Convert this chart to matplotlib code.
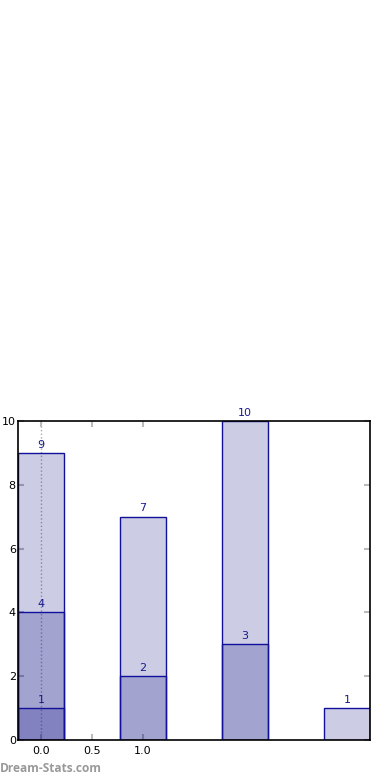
import matplotlib
matplotlib.use("Agg")
import matplotlib.pyplot as plt

positions = [0, 1, 2, 3]
layer_values = [
    [9, 7, 10, 1],
    [4, 2, 3, None],
    [1, None, None, None],
]
xtick_vals = [0.0, 0.5, 1.0]
xtick_labels = ["0.0", "0.5", "1.0"]
ytick_vals = [0, 2, 4, 6, 8, 10]

fig = plt.figure(figsize=(3.9, 7.8), dpi=100)
ax = fig.add_axes([0.046, 0.0513, 0.903, 0.409])

ax.axvline(0, color="#aaaaaa", linestyle=":", linewidth=1, zorder=0)

for layer in layer_values:
    for x, v in zip(positions, layer):
        if v is None:
            continue
        ax.bar(x, v, width=0.45, color=(0, 0, 0.5, 0.2), edgecolor="#10109a",
               linewidth=1, zorder=2)
        ax.text(x, v + 0.1, str(v), ha="center", va="bottom", fontsize=8,
                color="#1a1a8a", zorder=3)

ax.set_xlim(-0.225, 3.225)
ax.set_ylim(0, 10)
ax.set_xticks(xtick_vals)
ax.set_xticklabels(xtick_labels)
ax.set_yticks(ytick_vals)
ax.tick_params(direction="in", length=4, color="#bbbbbb", labelsize=8,
               top=True, right=True, width=1.5, pad=4)
ax.tick_params(axis="y", pad=1.5)
for s in ax.spines.values():
    s.set_linewidth(1.2)

fig.text(0.0, 0.006, "Dream-Stats.com", fontsize=8.6, color="#999999",
         fontweight="bold", family="Open Sans", ha="left", va="bottom")

fig.savefig("out.png", dpi=100)
